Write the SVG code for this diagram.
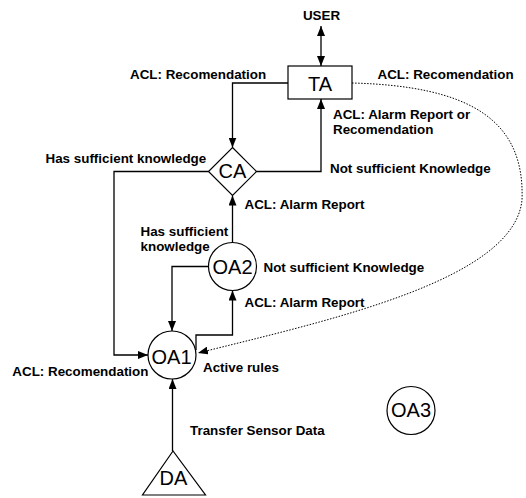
<svg xmlns="http://www.w3.org/2000/svg" width="526" height="498" viewBox="0 0 526 498">
<defs>
<marker id="ah" markerUnits="userSpaceOnUse" markerWidth="10" markerHeight="8" refX="10" refY="4" orient="auto-start-reverse">
<path d="M0,0 L10,4 L0,8 z" fill="#000"/>
</marker>
<style>
.lbl{font-family:"Liberation Sans",Arial,sans-serif;font-weight:bold;font-size:13.4px;fill:#000}
.nt{font-family:"Liberation Sans",Arial,sans-serif;font-size:20px;fill:#000;text-anchor:middle}
.shape{fill:#fff;stroke:#000;stroke-width:1.2}
.conn{fill:none;stroke:#000;stroke-width:1.3}
.dot{fill:none;stroke:#000;stroke-width:1;stroke-dasharray:1.5 1.5}
</style>
</defs>
<rect width="526" height="498" fill="#fff"/>
<g id="connectors">
<line class="conn" x1="321" y1="26" x2="321" y2="66" marker-start="url(#ah)" marker-end="url(#ah)"/>
<path class="conn" d="M288,83 H232.5 V147.5" marker-end="url(#ah)"/>
<path class="conn" d="M256.5,171.5 H321 V99" marker-end="url(#ah)"/>
<path class="conn" d="M208.5,171.5 H114 V355 H148" marker-end="url(#ah)"/>
<path class="conn" d="M232.5,242.5 V195.5" marker-end="url(#ah)"/>
<path class="conn" d="M208.5,266.5 H172 V331" marker-end="url(#ah)"/>
<path class="conn" d="M196,350 V335 H232.5 V290.5" marker-end="url(#ah)"/>
<path class="conn" d="M172.5,451 V379" marker-end="url(#ah)"/>
<path class="dot" d="M352,83 C470,86 525,120 522,200 C514,280 330,320 198,353" marker-end="url(#ah)"/>
</g>
<g id="USER"><text class="lbl" x="321.5" y="19.5" text-anchor="middle">USER</text></g>
<g id="TA"><rect class="shape" x="288" y="66" width="64" height="33"/><text class="nt" x="320" y="90.5">TA</text></g>
<g id="CA"><polygon class="shape" points="232.5,147.5 256.5,171.5 232.5,195.5 208.5,171.5"/><text class="nt" x="232.5" y="178.3">CA</text></g>
<g id="OA2"><circle class="shape" cx="232.5" cy="266.5" r="24"/><text class="nt" x="232.5" y="274.3">OA2</text></g>
<g id="OA1"><circle class="shape" cx="172" cy="355" r="24"/><text class="nt" x="171.5" y="364">OA1</text></g>
<g id="OA3"><circle class="shape" cx="411" cy="410.5" r="24"/><text class="nt" x="411" y="417.3">OA3</text></g>
<g id="DA"><polygon class="shape" points="173,451 142.5,495 205.5,495"/><text class="nt" x="173.5" y="485">DA</text></g>
<g id="labels">
<text class="lbl" x="130" y="79">ACL: Recomendation</text>
<text class="lbl" x="377.5" y="79">ACL: Recomendation</text>
<text class="lbl" x="333" y="118.5">ACL: Alarm Report or</text>
<text class="lbl" x="333" y="133.5">Recomendation</text>
<text class="lbl" x="45.5" y="163">Has sufficient knowledge</text>
<text class="lbl" x="330" y="173">Not sufficient Knowledge</text>
<text class="lbl" x="244.5" y="208.5">ACL: Alarm Report</text>
<text class="lbl" x="140.5" y="236">Has sufficient</text>
<text class="lbl" x="140.5" y="251">knowledge</text>
<text class="lbl" x="263.5" y="272">Not sufficient Knowledge</text>
<text class="lbl" x="244.5" y="306.5">ACL: Alarm Report</text>
<text class="lbl" x="12.3" y="376">ACL: Recomendation</text>
<text class="lbl" x="203" y="372">Active rules</text>
<text class="lbl" x="190" y="435">Transfer Sensor Data</text>
</g>
</svg>
